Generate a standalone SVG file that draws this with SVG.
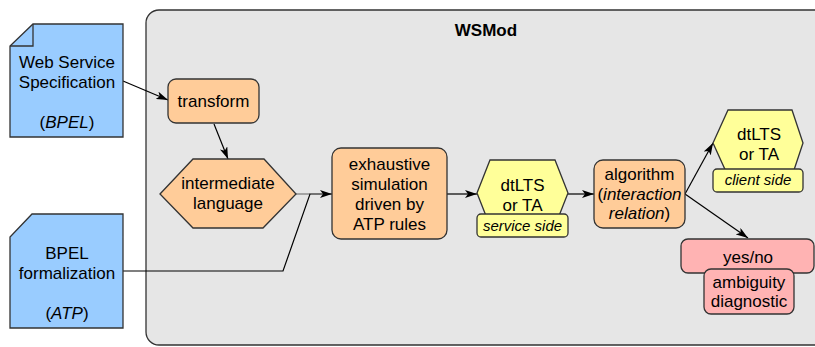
<svg xmlns="http://www.w3.org/2000/svg" width="815" height="347" viewBox="0 0 815 347">
<defs>
<marker id="ah" markerWidth="12" markerHeight="8" refX="12" refY="4" orient="auto" markerUnits="userSpaceOnUse">
<path d="M0,0 L12,4 L0,8 L3,4 Z" fill="#000"/>
</marker>
<style>
text{font-family:"Liberation Sans",Arial,sans-serif;font-size:17px;fill:#000;text-anchor:middle}
.doc{fill:#99ccff;stroke:#333;stroke-width:1.3}
.or{fill:#ffcc99;stroke:#333;stroke-width:1.3}
.ye{fill:#ffff99;stroke:#333;stroke-width:1.3}
.pk{fill:#ffb3b3;stroke:#333;stroke-width:1.3}
.lbl{font-size:15px;font-style:italic}
.ttl{font-size:17px;font-weight:bold}
.c{fill:none;stroke:#000;stroke-width:1.2}
</style>
</defs>
<rect width="815" height="347" fill="#fff"/>
<g id="wsmod">
<rect x="146" y="10" width="700" height="335" rx="13" fill="#e6e6e6" stroke="#333" stroke-width="1.3"/>
<text class="ttl" x="486" y="36">WSMod</text>
</g>
<g id="connectors">
<line class="c" x1="123" y1="81" x2="168" y2="100" marker-end="url(#ah)"/>
<line class="c" x1="214" y1="124" x2="228" y2="159" marker-end="url(#ah)"/>
<line x1="296" y1="194" x2="310" y2="194" stroke="#777" stroke-width="1.2"/>
<polyline class="c" points="123,271 283,271 310,194 332,194" marker-end="url(#ah)"/>
<line class="c" x1="447" y1="194" x2="477" y2="194" marker-end="url(#ah)"/>
<line class="c" x1="568" y1="194" x2="594" y2="194" marker-end="url(#ah)"/>
<line class="c" x1="685" y1="194" x2="713" y2="143" marker-end="url(#ah)"/>
<line class="c" x1="685" y1="194" x2="748" y2="238" marker-end="url(#ah)"/>
</g>
<g id="ws-spec">
<path class="doc" d="M33,24 L123,24 L123,137 L10,137 L10,46 Z"/>
<path d="M33,24 L33,46 L10,46" fill="none" stroke="#333" stroke-width="1.3"/>
<text x="67" y="68">Web Service</text>
<text x="67" y="88">Specification</text>
<text x="67" y="128">(<tspan font-style="italic">BPEL</tspan>)</text>
</g>
<g id="bpel-formal">
<path class="doc" d="M32,214 L123,214 L123,328 L10,328 L10,237 Z"/>
<text x="67" y="259">BPEL</text>
<text x="67" y="279">formalization</text>
<text x="67" y="319">(<tspan font-style="italic">ATP</tspan>)</text>
</g>
<g id="transform">
<rect class="or" x="168" y="79" width="91" height="44" rx="8"/>
<text x="213.5" y="107">transform</text>
</g>
<g id="intermediate">
<polygon class="or" points="160,194 193,159 264,159 296,194 263,228 193,228"/>
<text x="228" y="189">intermediate</text>
<text x="228" y="209">language</text>
</g>
<g id="exhaustive">
<rect class="or" x="332" y="148" width="115" height="91" rx="9"/>
<text x="389.5" y="170">exhaustive</text>
<text x="389.5" y="190">simulation</text>
<text x="389.5" y="210">driven by</text>
<text x="389.5" y="230">ATP rules</text>
</g>
<g id="service-dtlts">
<polygon class="ye" points="477,193 490,160 555,160 568,193 555,226 490,226"/>
<text x="522.5" y="191">dtLTS</text>
<text x="522.5" y="211">or TA</text>
<rect class="ye" x="477" y="214" width="91" height="23" rx="4"/>
<text class="lbl" x="522.5" y="231">service side</text>
</g>
<g id="algorithm">
<rect class="or" x="594" y="160" width="91" height="68" rx="9"/>
<text x="639.5" y="180">algorithm</text>
<text x="639.5" y="200">(<tspan font-style="italic">interaction</tspan></text>
<text x="639.5" y="219"><tspan font-style="italic">relation</tspan>)</text>
</g>
<g id="client-dtlts">
<polygon class="ye" points="713,143 728,110 792,110 803,143 792,176 728,176"/>
<text x="759" y="140">dtLTS</text>
<text x="759" y="160">or TA</text>
<rect class="ye" x="713" y="169" width="90" height="23" rx="4"/>
<text class="lbl" x="758" y="185">client side</text>
</g>
<g id="yesno">
<rect class="pk" x="681" y="239" width="133" height="34" rx="7"/>
<text x="748" y="263">yes/no</text>
<rect class="pk" x="704" y="269" width="90" height="45" rx="7"/>
<text x="749" y="288">ambiguity</text>
<text x="749" y="307">diagnostic</text>
</g>
</svg>
